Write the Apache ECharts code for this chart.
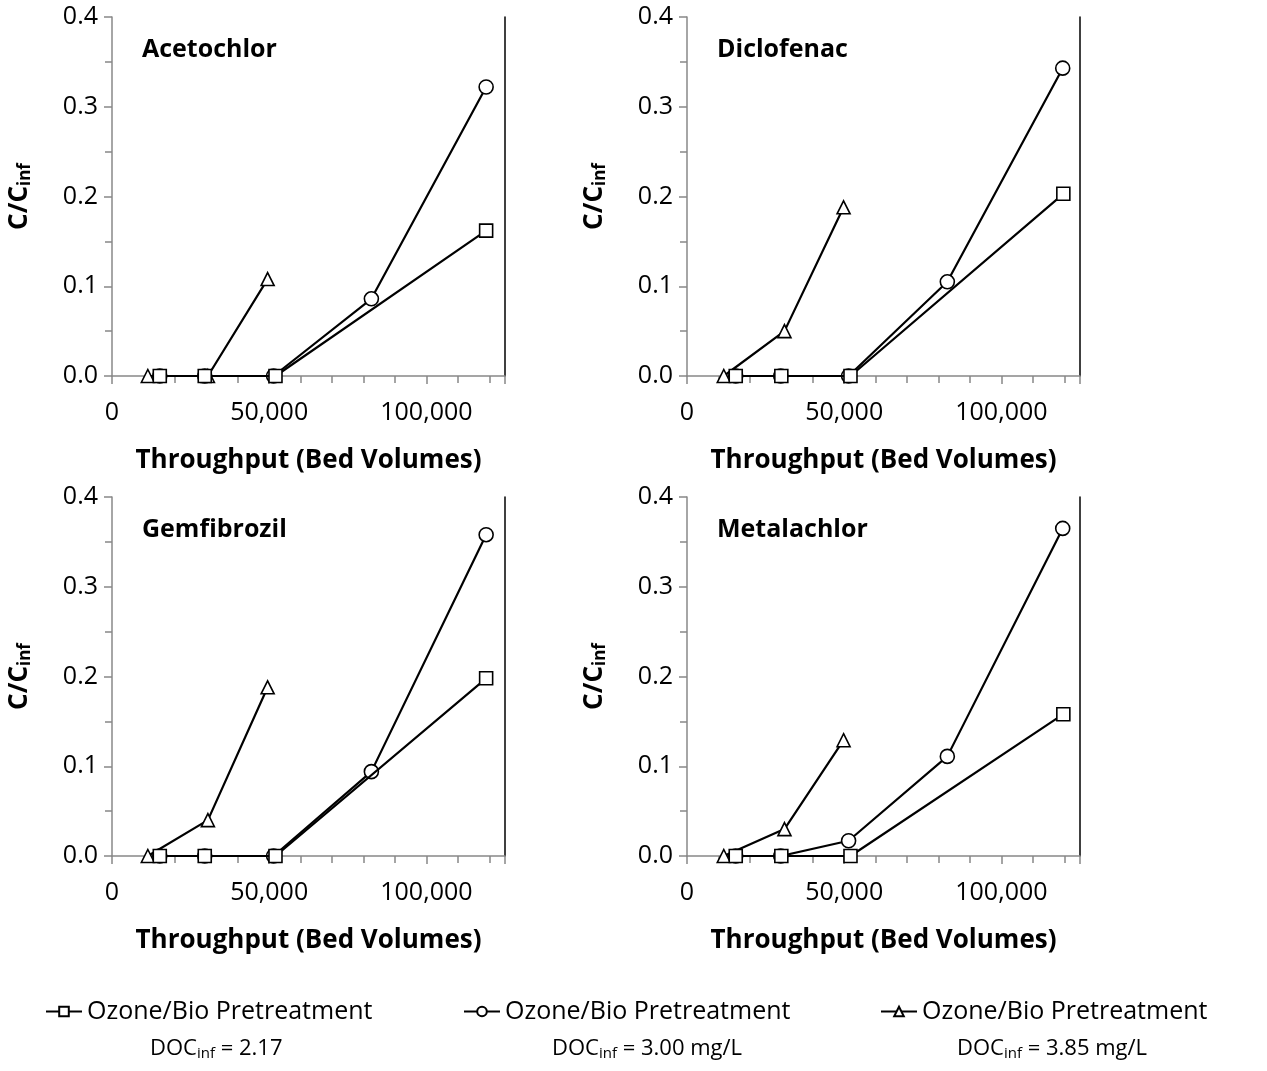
<!DOCTYPE html>
<html><head><meta charset="utf-8">
<script src="https://cdn.jsdelivr.net/npm/echarts@6/dist/echarts.min.js"></script>
<style>html,body{margin:0;background:#fff}#c{width:1267px;height:1071px}</style>
</head><body><div id="c"></div>
<script>
const panels = ['Acetochlor', 'Diclofenac', 'Gemfibrozil', 'Metalachlor'];
const seriesNames = ['2.17', '3.00', '3.85'];
const docLabels = ['DOC{s|inf} = 2.17', 'DOC{s|inf} = 3.00 mg/L', 'DOC{s|inf} = 3.85 mg/L'];
const symbols = ['rect', 'circle', 'triangle'];

// [bed volumes, C/Cinf] per panel, per series (square, circle, triangle)
const squareData = [
  [[15200, 0], [29500, 0], [52000, 0], [119000, 0.162]],
  [[15500, 0], [30000, 0], [52000, 0], [119700, 0.203]],
  [[15200, 0], [29500, 0], [52000, 0], [119000, 0.198]],
  [[15500, 0], [30000, 0], [52000, 0], [119700, 0.158]]
];
const circleData = [
  [[15200, 0], [29500, 0], [51400, 0], [82500, 0.086], [119000, 0.322]],
  [[15500, 0], [29800, 0], [51400, 0], [82800, 0.105], [119500, 0.343]],
  [[15200, 0], [29500, 0], [51400, 0], [82500, 0.094], [119000, 0.358]],
  [[15500, 0], [29800, 0], [51400, 0.017], [82800, 0.111], [119500, 0.365]]
];
const triangleData = [
  [[11400, 0], [30500, 0], [49500, 0.108]],
  [[11700, 0], [31000, 0.05], [49800, 0.188]],
  [[11400, 0], [30500, 0.04], [49500, 0.188]],
  [[11700, 0], [31000, 0.03], [49800, 0.129]]
];
const allData = [squareData, circleData, triangleData];

const font = 'Open Sans';
const axisCol = '#888';
const pos = [[112, 17], [687, 17], [112, 497], [687, 497]];
const grid = [], xAxis = [], yAxis = [], series = [], graphic = [];

pos.forEach((p, i) => {
  grid.push({ left: p[0], top: p[1], width: 393, height: 359 });
  xAxis.push({
    gridIndex: i, type: 'value', min: 0, max: 125000, interval: 50000,
    axisLine: { lineStyle: { color: axisCol, width: 1.5 } },
    axisTick: { inside: false, length: 8, lineStyle: { color: axisCol, width: 1.5 } },
    minorTick: { show: true, splitNumber: 5, length: 7, lineStyle: { color: axisCol, width: 1.5 } },
    splitLine: { show: false },
    axisLabel: { color: '#000', fontFamily: font, fontSize: 25, margin: 24,
      formatter: v => v === 125000 ? '' : v.toLocaleString('en-US') },
    name: 'Throughput (Bed Volumes)', nameLocation: 'middle', nameGap: 72,
    nameTextStyle: { color: '#000', fontFamily: font, fontSize: 26, fontWeight: 'bold' }
  });
  yAxis.push({
    gridIndex: i, type: 'value', min: 0, max: 0.4, interval: 0.1,
    axisLine: { show: true, lineStyle: { color: axisCol, width: 1.5 } },
    axisTick: { show: true, length: 8, lineStyle: { color: axisCol, width: 1.5 } },
    minorTick: { show: true, splitNumber: 2, length: 7, lineStyle: { color: axisCol, width: 1.5 } },
    splitLine: { show: false },
    axisLabel: { color: '#000', fontFamily: font, fontSize: 25, margin: 14, formatter: v => v.toFixed(1) },
    name: '{m|C/C}{s|inf}', nameLocation: 'middle', nameGap: 78, nameRotate: 90,
    nameTextStyle: { rich: {
      m: { color: '#000', fontFamily: font, fontSize: 26, fontWeight: 'bold' },
      s: { color: '#000', fontFamily: font, fontSize: 17, fontWeight: 'bold', verticalAlign: 'bottom', padding: [12, 0, 0, 0] }
    } }
  });
  // right border line
  yAxis.push({
    gridIndex: i, type: 'value', min: 0, max: 0.4, position: 'right',
    axisLine: { show: true, lineStyle: { color: '#000', width: 1.5 } },
    axisTick: { show: false }, axisLabel: { show: false }, splitLine: { show: false }
  });
  graphic.push({ type: 'text', left: p[0] + 30, top: p[1] + 20,
    style: { text: panels[i], font: 'bold 25px "Open Sans"', fill: '#000' } });
  allData.forEach((d, k) => {
    series.push({
      name: seriesNames[k], type: 'line', xAxisIndex: i, yAxisIndex: i * 2,
      data: d[i], symbol: symbols[k], symbolSize: k === 1 ? 14 : 13,
      lineStyle: { color: '#000', width: 2.2 },
      itemStyle: { color: '#fff', borderColor: '#000', borderWidth: 1.6 },
      z: 3 - k
    });
  });
});

const legendX = [40, 458, 875];
const docX = [150, 552, 957];
const legend = seriesNames.map((n, k) => ({
  data: [n], left: legendX[k], top: 994, itemWidth: 36, itemHeight: 12,
  formatter: () => 'Ozone/Bio Pretreatment',
  textStyle: { color: '#000', fontFamily: font, fontSize: 25 }
}));
seriesNames.forEach((n, k) => {
  graphic.push({ type: 'text', left: docX[k], top: 1038,
    style: { text: docLabels[k], rich: { s: { fontFamily: font, fontSize: 15, fill: '#000', padding: [9, 0, 0, 0] } },
      fontFamily: font, fontSize: 22, fill: '#000' } });
});

const chart = echarts.init(document.getElementById('c'));
chart.setOption({
  animation: false,
  grid, xAxis, yAxis, series, graphic, legend
});
</script></body></html>
